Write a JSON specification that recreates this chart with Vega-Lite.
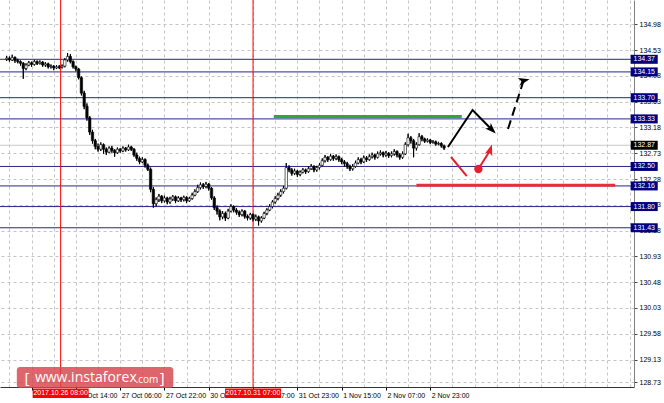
{
"$schema": "https://vega.github.io/schema/vega-lite/v6.json",
"width": 634, "height": 387,
"autosize": {"type": "none"},
"padding": {"left": 0, "top": 0, "right": 30, "bottom": 16},
"background": "white",
"config": {"view": {"stroke": null}, "font": "Liberation Sans"},
"resolve": {"axis": {"x": "independent", "y": "independent"}},
"datasets": {
"candles": [
{"i":1,"o":134.37,"h":134.43,"l":134.34,"c":134.39},
{"i":2,"o":134.39,"h":134.42,"l":134.33,"c":134.36},
{"i":3,"o":134.36,"h":134.45,"l":134.34,"c":134.40},
{"i":4,"o":134.40,"h":134.42,"l":134.31,"c":134.35},
{"i":5,"o":134.35,"h":134.38,"l":134.30,"c":134.33},
{"i":6,"o":134.33,"h":134.35,"l":134.26,"c":134.30},
{"i":7,"o":134.30,"h":134.32,"l":134.03,"c":134.21},
{"i":8,"o":134.21,"h":134.30,"l":134.18,"c":134.27},
{"i":9,"o":134.27,"h":134.34,"l":134.25,"c":134.31},
{"i":10,"o":134.31,"h":134.33,"l":134.24,"c":134.28},
{"i":11,"o":134.28,"h":134.36,"l":134.26,"c":134.33},
{"i":12,"o":134.33,"h":134.35,"l":134.27,"c":134.30},
{"i":13,"o":134.30,"h":134.35,"l":134.28,"c":134.32},
{"i":14,"o":134.32,"h":134.34,"l":134.24,"c":134.27},
{"i":15,"o":134.27,"h":134.32,"l":134.24,"c":134.29},
{"i":16,"o":134.29,"h":134.31,"l":134.21,"c":134.24},
{"i":17,"o":134.24,"h":134.28,"l":134.21,"c":134.25},
{"i":18,"o":134.25,"h":134.27,"l":134.18,"c":134.22},
{"i":19,"o":134.22,"h":134.27,"l":134.20,"c":134.24},
{"i":20,"o":134.24,"h":134.27,"l":134.20,"c":134.23},
{"i":21,"o":134.23,"h":134.28,"l":134.21,"c":134.25},
{"i":22,"o":134.25,"h":134.39,"l":134.23,"c":134.36},
{"i":23,"o":134.36,"h":134.48,"l":134.33,"c":134.42},
{"i":24,"o":134.42,"h":134.46,"l":134.30,"c":134.33},
{"i":25,"o":134.33,"h":134.35,"l":134.21,"c":134.24},
{"i":26,"o":134.24,"h":134.26,"l":134.16,"c":134.20},
{"i":27,"o":134.20,"h":134.22,"l":134.02,"c":134.05},
{"i":28,"o":134.05,"h":134.07,"l":133.74,"c":133.78},
{"i":29,"o":133.78,"h":133.82,"l":133.50,"c":133.55},
{"i":30,"o":133.55,"h":133.60,"l":133.30,"c":133.35},
{"i":31,"o":133.35,"h":133.38,"l":133.05,"c":133.10},
{"i":32,"o":133.10,"h":133.14,"l":132.90,"c":132.95},
{"i":33,"o":132.95,"h":132.98,"l":132.80,"c":132.85},
{"i":34,"o":132.85,"h":132.90,"l":132.76,"c":132.80},
{"i":35,"o":132.80,"h":132.92,"l":132.77,"c":132.88},
{"i":36,"o":132.88,"h":132.90,"l":132.72,"c":132.80},
{"i":37,"o":132.80,"h":132.83,"l":132.70,"c":132.75},
{"i":38,"o":132.75,"h":132.85,"l":132.73,"c":132.82},
{"i":39,"o":132.82,"h":132.86,"l":132.74,"c":132.78},
{"i":40,"o":132.78,"h":132.80,"l":132.67,"c":132.74},
{"i":41,"o":132.74,"h":132.83,"l":132.72,"c":132.80},
{"i":42,"o":132.80,"h":132.82,"l":132.74,"c":132.77},
{"i":43,"o":132.77,"h":132.85,"l":132.75,"c":132.82},
{"i":44,"o":132.82,"h":132.84,"l":132.76,"c":132.79},
{"i":45,"o":132.79,"h":132.88,"l":132.77,"c":132.84},
{"i":46,"o":132.84,"h":132.86,"l":132.77,"c":132.80},
{"i":47,"o":132.80,"h":132.82,"l":132.67,"c":132.70},
{"i":48,"o":132.70,"h":132.74,"l":132.60,"c":132.64},
{"i":49,"o":132.64,"h":132.67,"l":132.54,"c":132.58},
{"i":50,"o":132.58,"h":132.66,"l":132.56,"c":132.62},
{"i":51,"o":132.62,"h":132.64,"l":132.48,"c":132.52},
{"i":52,"o":132.52,"h":132.55,"l":132.42,"c":132.45},
{"i":53,"o":132.45,"h":132.48,"l":132.05,"c":132.10},
{"i":54,"o":132.10,"h":132.14,"l":131.78,"c":131.85},
{"i":55,"o":131.85,"h":131.96,"l":131.80,"c":131.92},
{"i":56,"o":131.92,"h":132.02,"l":131.88,"c":131.98},
{"i":57,"o":131.98,"h":132.00,"l":131.86,"c":131.90},
{"i":58,"o":131.90,"h":131.99,"l":131.87,"c":131.95},
{"i":59,"o":131.95,"h":131.97,"l":131.84,"c":131.88},
{"i":60,"o":131.88,"h":131.97,"l":131.85,"c":131.93},
{"i":61,"o":131.93,"h":132.00,"l":131.90,"c":131.97},
{"i":62,"o":131.97,"h":131.99,"l":131.86,"c":131.90},
{"i":63,"o":131.90,"h":131.98,"l":131.88,"c":131.95},
{"i":64,"o":131.95,"h":131.97,"l":131.88,"c":131.92},
{"i":65,"o":131.92,"h":131.99,"l":131.89,"c":131.96},
{"i":66,"o":131.96,"h":131.98,"l":131.86,"c":131.90},
{"i":67,"o":131.90,"h":131.97,"l":131.88,"c":131.94},
{"i":68,"o":131.94,"h":132.04,"l":131.92,"c":132.00},
{"i":69,"o":132.00,"h":132.10,"l":131.98,"c":132.06},
{"i":70,"o":132.06,"h":132.18,"l":132.04,"c":132.13},
{"i":71,"o":132.13,"h":132.22,"l":132.10,"c":132.18},
{"i":72,"o":132.18,"h":132.21,"l":132.11,"c":132.15},
{"i":73,"o":132.15,"h":132.23,"l":132.12,"c":132.19},
{"i":74,"o":132.19,"h":132.21,"l":132.08,"c":132.12},
{"i":75,"o":132.12,"h":132.14,"l":131.92,"c":131.95},
{"i":76,"o":131.95,"h":131.98,"l":131.74,"c":131.78},
{"i":77,"o":131.78,"h":131.82,"l":131.66,"c":131.72},
{"i":78,"o":131.72,"h":131.75,"l":131.56,"c":131.62},
{"i":79,"o":131.62,"h":131.72,"l":131.58,"c":131.68},
{"i":80,"o":131.68,"h":131.71,"l":131.55,"c":131.60},
{"i":81,"o":131.60,"h":131.76,"l":131.58,"c":131.72},
{"i":82,"o":131.72,"h":131.84,"l":131.70,"c":131.80},
{"i":83,"o":131.80,"h":131.82,"l":131.70,"c":131.74},
{"i":84,"o":131.74,"h":131.77,"l":131.66,"c":131.70},
{"i":85,"o":131.70,"h":131.73,"l":131.62,"c":131.66},
{"i":86,"o":131.66,"h":131.75,"l":131.63,"c":131.72},
{"i":87,"o":131.72,"h":131.74,"l":131.59,"c":131.63},
{"i":88,"o":131.63,"h":131.66,"l":131.56,"c":131.60},
{"i":89,"o":131.60,"h":131.69,"l":131.57,"c":131.66},
{"i":90,"o":131.66,"h":131.68,"l":131.54,"c":131.58},
{"i":91,"o":131.58,"h":131.66,"l":131.55,"c":131.62},
{"i":92,"o":131.62,"h":131.64,"l":131.47,"c":131.55},
{"i":93,"o":131.55,"h":131.63,"l":131.52,"c":131.60},
{"i":94,"o":131.60,"h":131.71,"l":131.58,"c":131.68},
{"i":95,"o":131.68,"h":131.77,"l":131.65,"c":131.74},
{"i":96,"o":131.74,"h":131.84,"l":131.72,"c":131.80},
{"i":97,"o":131.80,"h":131.91,"l":131.77,"c":131.88},
{"i":98,"o":131.88,"h":131.98,"l":131.85,"c":131.94},
{"i":99,"o":131.94,"h":132.04,"l":131.91,"c":132.00},
{"i":100,"o":132.00,"h":132.10,"l":131.97,"c":132.06},
{"i":101,"o":132.06,"h":132.16,"l":132.03,"c":132.12},
{"i":102,"o":132.12,"h":132.56,"l":132.10,"c":132.48},
{"i":103,"o":132.48,"h":132.52,"l":132.40,"c":132.44},
{"i":104,"o":132.44,"h":132.47,"l":132.34,"c":132.38},
{"i":105,"o":132.38,"h":132.46,"l":132.35,"c":132.42},
{"i":106,"o":132.42,"h":132.44,"l":132.32,"c":132.36},
{"i":107,"o":132.36,"h":132.43,"l":132.33,"c":132.40},
{"i":108,"o":132.40,"h":132.47,"l":132.38,"c":132.44},
{"i":109,"o":132.44,"h":132.46,"l":132.37,"c":132.41},
{"i":110,"o":132.41,"h":132.50,"l":132.39,"c":132.46},
{"i":111,"o":132.46,"h":132.54,"l":132.44,"c":132.50},
{"i":112,"o":132.50,"h":132.52,"l":132.40,"c":132.44},
{"i":113,"o":132.44,"h":132.51,"l":132.41,"c":132.48},
{"i":114,"o":132.48,"h":132.56,"l":132.45,"c":132.52},
{"i":115,"o":132.52,"h":132.64,"l":132.50,"c":132.60},
{"i":116,"o":132.60,"h":132.70,"l":132.57,"c":132.66},
{"i":117,"o":132.66,"h":132.68,"l":132.58,"c":132.62},
{"i":118,"o":132.62,"h":132.72,"l":132.60,"c":132.68},
{"i":119,"o":132.68,"h":132.70,"l":132.60,"c":132.64},
{"i":120,"o":132.64,"h":132.71,"l":132.61,"c":132.67},
{"i":121,"o":132.67,"h":132.69,"l":132.58,"c":132.62},
{"i":122,"o":132.62,"h":132.65,"l":132.54,"c":132.58},
{"i":123,"o":132.58,"h":132.61,"l":132.50,"c":132.55},
{"i":124,"o":132.55,"h":132.58,"l":132.46,"c":132.50},
{"i":125,"o":132.50,"h":132.53,"l":132.42,"c":132.46},
{"i":126,"o":132.46,"h":132.54,"l":132.43,"c":132.50},
{"i":127,"o":132.50,"h":132.60,"l":132.48,"c":132.56},
{"i":128,"o":132.56,"h":132.66,"l":132.54,"c":132.62},
{"i":129,"o":132.62,"h":132.65,"l":132.54,"c":132.58},
{"i":130,"o":132.58,"h":132.69,"l":132.56,"c":132.65},
{"i":131,"o":132.65,"h":132.68,"l":132.58,"c":132.62},
{"i":132,"o":132.62,"h":132.71,"l":132.60,"c":132.67},
{"i":133,"o":132.67,"h":132.74,"l":132.64,"c":132.70},
{"i":134,"o":132.70,"h":132.72,"l":132.62,"c":132.66},
{"i":135,"o":132.66,"h":132.76,"l":132.64,"c":132.72},
{"i":136,"o":132.72,"h":132.78,"l":132.69,"c":132.74},
{"i":137,"o":132.74,"h":132.76,"l":132.66,"c":132.70},
{"i":138,"o":132.70,"h":132.77,"l":132.67,"c":132.73},
{"i":139,"o":132.73,"h":132.75,"l":132.65,"c":132.69},
{"i":140,"o":132.69,"h":132.76,"l":132.66,"c":132.72},
{"i":141,"o":132.72,"h":132.80,"l":132.69,"c":132.76},
{"i":142,"o":132.76,"h":132.78,"l":132.66,"c":132.70},
{"i":143,"o":132.70,"h":132.73,"l":132.62,"c":132.66},
{"i":144,"o":132.66,"h":132.76,"l":132.63,"c":132.72},
{"i":145,"o":132.72,"h":132.92,"l":132.70,"c":132.88},
{"i":146,"o":132.88,"h":133.07,"l":132.85,"c":133.00},
{"i":147,"o":133.00,"h":133.03,"l":132.90,"c":132.95},
{"i":148,"o":132.95,"h":132.98,"l":132.66,"c":132.82},
{"i":149,"o":132.82,"h":132.92,"l":132.78,"c":132.88},
{"i":150,"o":132.88,"h":133.08,"l":132.86,"c":133.02},
{"i":151,"o":133.02,"h":133.05,"l":132.94,"c":132.98},
{"i":152,"o":132.98,"h":133.00,"l":132.91,"c":132.94},
{"i":153,"o":132.94,"h":132.99,"l":132.92,"c":132.96},
{"i":154,"o":132.96,"h":132.98,"l":132.89,"c":132.92},
{"i":155,"o":132.92,"h":132.96,"l":132.90,"c":132.93},
{"i":156,"o":132.93,"h":132.95,"l":132.86,"c":132.89},
{"i":157,"o":132.89,"h":132.93,"l":132.87,"c":132.90},
{"i":158,"o":132.90,"h":132.92,"l":132.83,"c":132.86},
{"i":159,"o":132.86,"h":132.88,"l":132.79,"c":132.82}
],
"levels": [{"v":134.37},{"v":134.15},{"v":133.70},{"v":133.33},{"v":132.50},{"v":132.16},{"v":131.80},{"v":131.43}],
"bid": [{"v":132.87}],
"vlines": [{"i":20.5,"t":"2017.10.26 08:00"},{"i":90,"t":"2017.10.31 07:00"}],
"zones": [{"name":"target","i":97.5,"i2":165.4,"v":133.37},{"name":"support","i":149,"i2":220.8,"v":132.17}],
"paths": [
{"g":"a","k":1,"i":160.4,"p":132.84},{"g":"a","k":2,"i":169.3,"p":133.485},{"g":"a","k":3,"i":176.1,"p":133.15},
{"g":"b","k":1,"i":182.1,"p":133.154},{"g":"b","k":2,"i":187.7,"p":133.995},
{"g":"c","k":1,"i":161.5,"p":132.665},{"g":"c","k":2,"i":167.2,"p":132.33},
{"g":"d","k":1,"i":171.4,"p":132.455},{"g":"d","k":2,"i":175.6,"p":132.78}
],
"heads": [{"g":"a","i":176.1,"p":133.15},{"g":"b","i":187.7,"p":133.995},{"g":"d","i":175.6,"p":132.78}],
"dots": [{"i":171.4,"p":132.455}]
},
"layer": [
{"data":{"name":"candles"},"mark":{"type":"rule","color":"black","strokeWidth":1},
 "encoding":{
  "x":{"field":"i","type":"quantitative","scale":{"domain":[0.4,225.8],"nice":false,"zero":false},
   "axis":{"title":null,"orient":"bottom","values":[-6,2,10,18,26,34,42,50,58,66,74,82,90,98,106,114,122,130,138,146,154,162,170,178,186,194,202,210,218,226],
    "labelExpr":"datum.value==-6?'25 Oct 06:00':datum.value==10?'25 Oct 22:00':datum.value==26?'26 Oct 14:00':datum.value==42?'27 Oct 06:00':datum.value==58?'27 Oct 22:00':datum.value==74?'30 Oct 14:00':datum.value==90?'31 Oct 07:00':datum.value==106?'31 Oct 23:00':datum.value==122?'1 Nov 15:00':datum.value==138?'2 Nov 07:00':datum.value==154?'2 Nov 23:00':''",
    "labelAlign":"left","labelBaseline":"top","labelPadding":1,"labelOffset":1,"labelFontSize":7,"labelColor":"black","labelOverlap":false,"labelBound":false,"labelFlush":false,
    "tickSize":3,"tickColor":"black","tickOpacity":{"condition":{"test":"(datum.value+6)%16==0 && datum.value<=154","value":1},"value":0},
    "domainColor":"#333333","grid":true,"gridColor":"#c4c4c4","gridDash":[3,3],"gridWidth":1}},
  "y":{"field":"l","type":"quantitative","scale":{"domain":[128.651,135.405],"nice":false,"zero":false},
   "axis":{"title":null,"orient":"right","values":[128.73,129.13,129.58,130.03,130.48,130.93,131.38,131.83,132.28,132.73,133.18,133.63,134.08,134.53,134.98,135.43],"format":".2f",
    "labelFontSize":7,"labelColor":"black","labelPadding":2,"labelOverlap":false,"labelBound":false,"labelFlush":false,"labelBaseline":"middle",
    "tickSize":3,"tickColor":"#444444","domainColor":"#808080","grid":true,"gridColor":"#c4c4c4","gridDash":[3,3],"gridWidth":1}},
  "y2":{"field":"h"}}},
{"data":{"name":"levels"},"mark":{"type":"rule","color":"#26268c","strokeWidth":1},
 "encoding":{"y":{"field":"v","type":"quantitative","axis":null}}},
{"data":{"name":"bid"},"mark":{"type":"rule","color":"#c8c8c8","strokeWidth":1},
 "encoding":{"y":{"field":"v","type":"quantitative","axis":null}}},
{"data":{"name":"vlines"},"mark":{"type":"rule","color":"#ff0000","strokeWidth":1},
 "encoding":{"x":{"field":"i","type":"quantitative","axis":null}}},
{"data":{"name":"candles"},"mark":{"type":"rule","color":"black","strokeWidth":1},
 "encoding":{"x":{"field":"i","type":"quantitative","axis":null},"y":{"field":"l","type":"quantitative","axis":null},"y2":{"field":"h"}}},
{"data":{"name":"candles"},"mark":{"type":"bar","size":2.4,"stroke":"black","strokeWidth":0.6},
 "encoding":{"x":{"field":"i","type":"quantitative","axis":null},"y":{"field":"o","type":"quantitative","axis":null},"y2":{"field":"c"},
  "fill":{"condition":{"test":"datum.c > datum.o","value":"white"},"value":"black"}}},
{"data":{"name":"zones"},"mark":{"type":"rule","strokeWidth":3},
 "encoding":{"x":{"field":"i","type":"quantitative","axis":null},"x2":{"field":"i2"},"y":{"field":"v","type":"quantitative","axis":null},
  "color":{"condition":{"test":"datum.name=='target'","value":"#2faa2f"},"value":"#e4303c"}}},
{"data":{"name":"paths"},"transform":[{"filter":"datum.g=='a'"}],"mark":{"type":"line","strokeWidth":2,"color":"black"},
 "encoding":{"x":{"field":"i","type":"quantitative","axis":null},"y":{"field":"p","type":"quantitative","axis":null},"order":{"field":"k"}}},
{"data":{"name":"paths"},"transform":[{"filter":"datum.g=='b'"}],"mark":{"type":"line","strokeWidth":2,"color":"black","strokeDash":[9,5]},
 "encoding":{"x":{"field":"i","type":"quantitative","axis":null},"y":{"field":"p","type":"quantitative","axis":null},"order":{"field":"k"}}},
{"data":{"name":"paths"},"transform":[{"filter":"datum.g=='c' || datum.g=='d'"}],"mark":{"type":"line","strokeWidth":2,"color":"#e4202c"},
 "encoding":{"x":{"field":"i","type":"quantitative","axis":null},"y":{"field":"p","type":"quantitative","axis":null},"order":{"field":"k"},"detail":{"field":"g"}}},
{"data":{"name":"heads"},"mark":{"type":"point","filled":true,"opacity":1,"size":150,"shape":"M0,-1L0.65,0.8L0,0.35L-0.65,0.8Z"},
 "encoding":{"x":{"field":"i","type":"quantitative","axis":null},"y":{"field":"p","type":"quantitative","axis":null},
  "angle":{"field":"g","type":"nominal","scale":{"domain":["a","b","d"],"range":[135,18,32]},"legend":null},
  "color":{"condition":{"test":"datum.g=='d'","value":"#e4202c"},"value":"black"}}},
{"data":{"name":"dots"},"mark":{"type":"point","shape":"circle","filled":true,"opacity":1,"size":70,"color":"#e4202c"},
 "encoding":{"x":{"field":"i","type":"quantitative","axis":null},"y":{"field":"p","type":"quantitative","axis":null}}},
{"data":{"name":"levels"},"mark":{"type":"point","filled":true,"opacity":1,"fill":"#000080","strokeWidth":0,"size":729,"shape":"M-1,-0.333L1,-0.333L1,0.333L-1,0.333Z"},
 "encoding":{"x":{"datum":231.3,"type":"quantitative","axis":null},"y":{"field":"v","type":"quantitative","axis":null}}},
{"data":{"name":"levels"},"mark":{"type":"text","fill":"white","fontSize":7,"align":"center","baseline":"middle"},
 "encoding":{"x":{"datum":231.3,"type":"quantitative","axis":null},"y":{"field":"v","type":"quantitative","axis":null},"text":{"field":"v","type":"quantitative","format":".2f"}}},
{"data":{"name":"bid"},"mark":{"type":"point","filled":true,"opacity":1,"fill":"black","strokeWidth":0,"size":729,"shape":"M-1,-0.333L1,-0.333L1,0.333L-1,0.333Z"},
 "encoding":{"x":{"datum":231.3,"type":"quantitative","axis":null},"y":{"field":"v","type":"quantitative","axis":null}}},
{"data":{"name":"bid"},"mark":{"type":"text","fill":"white","fontSize":7,"align":"center","baseline":"middle"},
 "encoding":{"x":{"datum":231.3,"type":"quantitative","axis":null},"y":{"field":"v","type":"quantitative","axis":null},"text":{"field":"v","type":"quantitative","format":".2f"}}},
{"data":{"name":"vlines"},"mark":{"type":"point","filled":true,"opacity":1,"fill":"#ff0000","strokeWidth":0,"size":3136,"shape":"M-1,-0.17L1,-0.17L1,0.17L-1,0.17Z"},
 "encoding":{"x":{"field":"i","type":"quantitative","axis":null},"y":{"datum":128.54,"type":"quantitative","axis":null}}},
{"data":{"name":"vlines"},"mark":{"type":"text","fill":"white","fontSize":7,"align":"center","baseline":"middle"},
 "encoding":{"x":{"field":"i","type":"quantitative","axis":null},"y":{"datum":128.54,"type":"quantitative","axis":null},"text":{"field":"t"}}},
{"data":{"values":[{}]},"mark":{"type":"rect","fill":"#d8434c","opacity":0.82,"cornerRadius":3},
 "encoding":{"x":{"datum":4.67,"type":"quantitative","axis":null},"x2":{"datum":61.2},"y":{"datum":129.0,"type":"quantitative","axis":null},"y2":{"datum":128.634}}},
{"data":{"values":[{}]},"mark":{"type":"text","text":"[","fill":"white","font":"Open Sans","fontSize":15,"align":"center","baseline":"middle"},
 "encoding":{"x":{"datum":8.3,"type":"quantitative","axis":null},"y":{"datum":128.81,"type":"quantitative","axis":null}}},
{"data":{"values":[{}]},"mark":{"type":"text","text":"www.instaforex","fill":"white","font":"Open Sans","fontSize":14,"align":"left","baseline":"middle"},
 "encoding":{"x":{"datum":11.2,"type":"quantitative","axis":null},"y":{"datum":128.81,"type":"quantitative","axis":null}}},
{"data":{"values":[{}]},"mark":{"type":"text","text":".com","fill":"white","font":"Open Sans","fontSize":10,"align":"left","baseline":"middle"},
 "encoding":{"x":{"datum":47.6,"type":"quantitative","axis":null},"y":{"datum":128.78,"type":"quantitative","axis":null}}},
{"data":{"values":[{}]},"mark":{"type":"text","text":"]","fill":"white","font":"Open Sans","fontSize":15,"align":"center","baseline":"middle"},
 "encoding":{"x":{"datum":57.2,"type":"quantitative","axis":null},"y":{"datum":128.81,"type":"quantitative","axis":null}}}
]
}
